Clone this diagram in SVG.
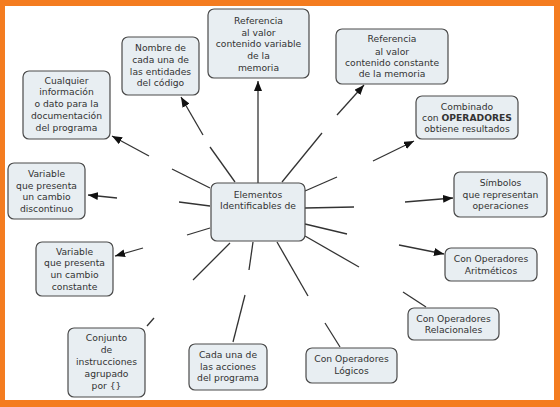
<svg xmlns="http://www.w3.org/2000/svg" width="560" height="407" viewBox="0 0 560 407">
<defs>
<marker id="ah" viewBox="0 0 10 8" refX="10" refY="4" markerWidth="10" markerHeight="8" markerUnits="userSpaceOnUse" orient="auto">
<path d="M0,0 L10,4 L0,8 z" fill="#111"/>
</marker>
</defs>
<style>
.bg{fill:#f47c20}
.page{fill:#ffffff}
.box{fill:#e8eef2;stroke:#4a4a4a;stroke-width:1.2}
.t{font-family:"DejaVu Sans",Verdana,sans-serif;font-size:9.2px;fill:#333;text-anchor:middle}
.b{font-weight:bold}
.c line{stroke:#333;stroke-width:1.3;fill:none}
</style>
<rect class="bg" x="0" y="0" width="560" height="407"/>
<rect class="page" x="5" y="6" width="549" height="394"/>

<g class="c" id="connectors">
<line x1="235" y1="182" x2="210" y2="147"/>
<line x1="203" y1="135" x2="181" y2="97" marker-end="url(#ah)"/>
<line x1="258" y1="183" x2="258" y2="81" marker-end="url(#ah)"/>
<line x1="210" y1="188" x2="172" y2="169"/>
<line x1="149" y1="156" x2="112" y2="136" marker-end="url(#ah)"/>
<line x1="210" y1="206" x2="179" y2="202"/>
<line x1="117" y1="198" x2="88" y2="195" marker-end="url(#ah)"/>
<line x1="210" y1="228" x2="187" y2="235"/>
<line x1="143" y1="248" x2="115" y2="256" marker-end="url(#ah)"/>
<line x1="230" y1="243" x2="193" y2="280"/>
<line x1="154" y1="318" x2="147" y2="326"/>
<line x1="253" y1="242" x2="249" y2="270"/>
<line x1="245" y1="295" x2="233" y2="342"/>
<line x1="277" y1="242" x2="308" y2="296"/>
<line x1="325" y1="323" x2="340" y2="347"/>
<line x1="305" y1="236" x2="359" y2="267"/>
<line x1="403" y1="292" x2="426" y2="307"/>
<line x1="305" y1="224" x2="347" y2="234"/>
<line x1="399" y1="245" x2="444" y2="254" marker-end="url(#ah)"/>
<line x1="305" y1="208" x2="354" y2="207"/>
<line x1="405" y1="202" x2="453" y2="198" marker-end="url(#ah)"/>
<line x1="305" y1="191" x2="337" y2="177"/>
<line x1="373" y1="161" x2="414" y2="141" marker-end="url(#ah)"/>
<line x1="282" y1="182" x2="322" y2="133"/>
<line x1="337" y1="115" x2="364" y2="85" marker-end="url(#ah)"/>
</g>

<g id="n-center">
<rect class="box" x="211" y="183" width="94" height="58" rx="6"/>
<text class="t" x="258" y="198">Elementos</text>
<text class="t" x="258" y="209">Identificables de</text>
</g>

<g id="n-ref-variable">
<rect class="box" x="208" y="9" width="101" height="69" rx="6"/>
<text class="t" x="258.5" y="24">Referencia</text>
<text class="t" x="258.5" y="36">al valor</text>
<text class="t" x="258.5" y="47">contenido variable</text>
<text class="t" x="258.5" y="59">de la</text>
<text class="t" x="258.5" y="71">memoria</text>
</g>

<g id="n-nombre">
<rect class="box" x="122" y="37" width="77" height="58" rx="6"/>
<text class="t" x="160.5" y="51">Nombre de</text>
<text class="t" x="160.5" y="63">cada una de</text>
<text class="t" x="160.5" y="75">las entidades</text>
<text class="t" x="160.5" y="86">del código</text>
</g>

<g id="n-cualquier">
<rect class="box" x="23" y="71" width="87" height="68" rx="6"/>
<text class="t" x="66.5" y="84">Cualquier</text>
<text class="t" x="66.5" y="95">información</text>
<text class="t" x="66.5" y="107">o dato para la</text>
<text class="t" x="66.5" y="119">documentación</text>
<text class="t" x="66.5" y="131">del programa</text>
</g>

<g id="n-var-discontinuo">
<rect class="box" x="8" y="163" width="77" height="56" rx="6"/>
<text class="t" x="46.5" y="177">Variable</text>
<text class="t" x="46.5" y="189">que presenta</text>
<text class="t" x="46.5" y="200">un cambio</text>
<text class="t" x="46.5" y="212">discontinuo</text>
</g>

<g id="n-var-constante">
<rect class="box" x="36" y="242" width="77" height="54" rx="6"/>
<text class="t" x="74.5" y="255">Variable</text>
<text class="t" x="74.5" y="266">que presenta</text>
<text class="t" x="74.5" y="278">un cambio</text>
<text class="t" x="74.5" y="290">constante</text>
</g>

<g id="n-conjunto">
<rect class="box" x="68" y="328" width="77" height="69" rx="6"/>
<text class="t" x="106.5" y="341">Conjunto</text>
<text class="t" x="106.5" y="353">de</text>
<text class="t" x="106.5" y="365">instrucciones</text>
<text class="t" x="106.5" y="377">agrupado</text>
<text class="t" x="106.5" y="389">por {}</text>
</g>

<g id="n-acciones">
<rect class="box" x="189" y="344" width="78" height="46" rx="6"/>
<text class="t" x="228" y="358">Cada una de</text>
<text class="t" x="228" y="370">las acciones</text>
<text class="t" x="228" y="381">del programa</text>
</g>

<g id="n-logicos">
<rect class="box" x="306" y="348" width="91" height="35" rx="6"/>
<text class="t" x="351.5" y="362">Con Operadores</text>
<text class="t" x="351.5" y="374">Lógicos</text>
</g>

<g id="n-relacionales">
<rect class="box" x="408" y="308" width="91" height="32" rx="6"/>
<text class="t" x="453.5" y="322">Con Operadores</text>
<text class="t" x="453.5" y="333">Relacionales</text>
</g>

<g id="n-aritmeticos">
<rect class="box" x="445" y="248" width="92" height="33" rx="6"/>
<text class="t" x="491" y="262">Con Operadores</text>
<text class="t" x="491" y="274">Aritméticos</text>
</g>

<g id="n-simbolos">
<rect class="box" x="454" y="172" width="93" height="45" rx="6"/>
<text class="t" x="500.5" y="186">Símbolos</text>
<text class="t" x="500.5" y="198">que representan</text>
<text class="t" x="500.5" y="209">operaciones</text>
</g>

<g id="n-combinado">
<rect class="box" x="416" y="96" width="102" height="43" rx="6"/>
<text class="t" x="467" y="110">Combinado</text>
<text class="t" x="467" y="121">con <tspan class="b">OPERADORES</tspan></text>
<text class="t" x="467" y="132">obtiene resultados</text>
</g>

<g id="n-ref-constante">
<rect class="box" x="336" y="29" width="112" height="55" rx="6"/>
<text class="t" x="392" y="42">Referencia</text>
<text class="t" x="392" y="55">al valor</text>
<text class="t" x="392" y="66">contenido constante</text>
<text class="t" x="392" y="77">de la memoria</text>
</g>
</svg>
